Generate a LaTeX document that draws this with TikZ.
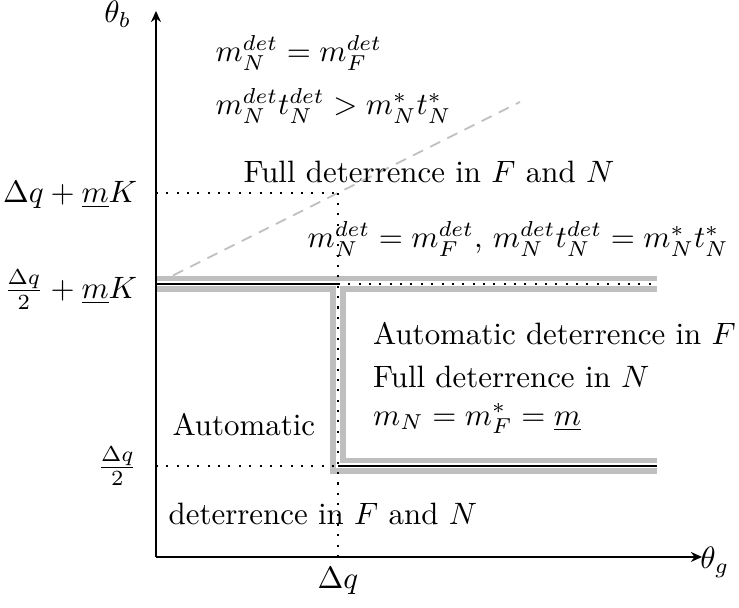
\documentclass[tikz,border=0pt]{standalone}
\usepackage{amsmath}
\usetikzlibrary{arrows.meta, positioning}
\tikzset{
    axis/.style={thick, -{Stealth[length=3.6pt, width=3.2pt]}},
    guide/.style={line width=0.65pt, dash pattern=on 0.65pt off 2.7pt},
    band/.style={draw=gray!50, line width=1.75pt, double=white, double distance=1.6pt},
    border/.style={line width=0.75pt, black},
    slope/.style={gray!50, semithick, dash pattern=on 3.6pt off 2.6pt},
    region/.style={inner sep=0pt, anchor=base west},
    level/.style={inner sep=0pt, anchor=base east},
}

\begin{document}
\begin{tikzpicture}[x=2.07cm, y=2.07cm]
\useasboundingbox (-0.857,-0.28) rectangle (3.203,3.06);

\coordinate (O) at (0,0);
\coordinate (xend) at (3,0);
\coordinate (yend) at (0,3);
\coordinate (low) at (0,0.5);
\coordinate (mid) at (0,1.5);
\coordinate (high) at (0,2);
\coordinate (kink) at (1,1.5);
\coordinate (foot) at (1,0.5);
\coordinate (dq) at (1,0);
\coordinate (top) at (1,2);
\coordinate (midend) at (2.75,1.5);
\coordinate (lowend) at (2.75,0.5);
\coordinate (slopeend) at (2,2.5);

% thresholds
\draw[slope] (mid) -- (slopeend);
\draw[band] (mid) -- (kink) -- (foot) -- (lowend) (kink) -- (midend);
\draw[border] (mid) -- (kink);
\draw[border] (foot) -- (lowend);

% guides
\draw[guide] (dq) -- (top);
\draw[guide] (high) -- (top);
\draw[guide] (low) -- (foot);
\draw[guide] (kink) -- (midend);

% axes
\draw[axis] (O) -- (xend);
\draw[axis] (O) -- (yend);

\node (thetab) at (-0.21,2.98) {$\theta_b$};
\node (thetag) at (3.07,-0.03) {$\theta_g$};
\node (dqlabel) at (1,-0.13) {$\Delta q$};
\node[level] (highlabel) at (-0.1,1.95) {$\Delta q + \underline{m}K$};
\node[level] (midlabel) at (-0.1,1.42) {$\frac{\Delta q}{2} + \underline{m}K$};
\node[level] (lowlabel) at (-0.1,0.45) {$\frac{\Delta q}{2}$};

% regions
\node[region] (full1) at (0.324,2.72) {$m_N^{det} = m_F^{det}$};
\node[region] (full2) at (0.324,2.43) {$m_N^{det}t_N^{det} > m_N^{*}t_N^{*}$};
\node[region] (full3) at (0.478,2.06) {Full deterrence in $F$ and $N$};
\node[region] (edge) at (0.83,1.70) {$m_N^{det} = m_F^{det}$, $m_N^{det}t_N^{det} = m_N^{*}t_N^{*}$};
\node[region] (mixed1) at (1.19,1.17) {Automatic deterrence in $F$};
\node[region] (mixed2) at (1.19,0.93) {Full deterrence in $N$};
\node[region] (mixed3) at (1.19,0.725) {$m_N = m_F^{*} = \underline{m}$};
\node[region] (auto1) at (0.088,0.665) {Automatic};
\node[region] (auto2) at (0.066,0.176) {deterrence in $F$ and $N$};

\end{tikzpicture}
\end{document}
